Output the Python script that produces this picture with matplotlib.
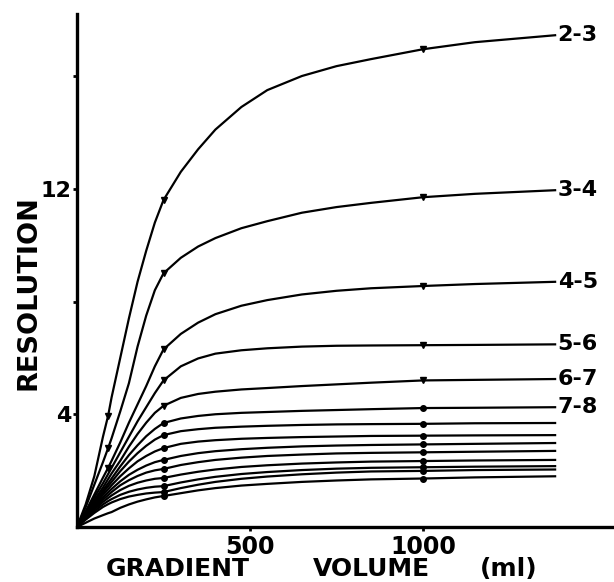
import numpy as np
import matplotlib
matplotlib.use("Agg")
import matplotlib.pyplot as plt

volume = [0, 25, 50, 75, 90, 100, 125, 150, 175, 200, 225, 250, 300, 350,
          400, 475, 550, 650, 750, 850, 1000, 1150, 1385]

# resolution of neighbouring peaks, top curve first
pair_labels = ["2-3", "3-4", "4-5", "5-6", "6-7", "7-8",
               "", "", "", "", "", "", "", ""]
resolution = [
    [0, 0.8, 1.8, 3.2, 3.95, 4.6, 6.0, 7.4, 8.7, 9.8, 10.8, 11.6, 12.6, 13.4,
     14.1, 14.9, 15.5, 16.0, 16.35, 16.6, 16.95, 17.2, 17.45],
    [0, 0.7, 1.5, 2.3, 2.8, 3.15, 4.1, 5.1, 6.4, 7.5, 8.4, 9.0, 9.55, 9.95,
     10.25, 10.6, 10.85, 11.15, 11.35, 11.5, 11.7, 11.82, 11.95],
    [0, 0.55, 1.15, 1.75, 2.1, 2.35, 3.0, 3.7, 4.35, 5.0, 5.7, 6.3, 6.85, 7.25,
     7.55, 7.85, 8.05, 8.25, 8.38, 8.47, 8.55, 8.62, 8.7],
    [0, 0.5, 1.05, 1.55, 1.88, 2.1, 2.65, 3.2, 3.75, 4.25, 4.75, 5.2, 5.7, 5.98,
     6.15, 6.27, 6.34, 6.4, 6.43, 6.44, 6.45, 6.46, 6.48],
    [0, 0.45, 0.95, 1.4, 1.7, 1.9, 2.35, 2.85, 3.3, 3.7, 4.05, 4.3, 4.58, 4.72,
     4.8, 4.88, 4.93, 5.0, 5.06, 5.12, 5.2, 5.22, 5.25],
    [0, 0.42, 0.88, 1.3, 1.55, 1.72, 2.15, 2.55, 2.9, 3.22, 3.48, 3.69, 3.85, 3.94,
     4.0, 4.05, 4.08, 4.12, 4.15, 4.18, 4.22, 4.23, 4.25],
    [0, 0.4, 0.82, 1.22, 1.45, 1.6, 1.98, 2.32, 2.62, 2.88, 3.1, 3.26, 3.4, 3.47,
     3.52, 3.56, 3.59, 3.62, 3.64, 3.65, 3.66, 3.68, 3.69],
    [0, 0.38, 0.77, 1.14, 1.34, 1.48, 1.8, 2.08, 2.33, 2.52, 2.68, 2.8, 2.95, 3.03,
     3.08, 3.13, 3.16, 3.19, 3.21, 3.23, 3.24, 3.25, 3.26],
    [0, 0.36, 0.72, 1.05, 1.23, 1.35, 1.62, 1.85, 2.03, 2.18, 2.3, 2.38, 2.52, 2.62,
     2.69, 2.76, 2.81, 2.86, 2.89, 2.91, 2.93, 2.95, 2.98],
    [0, 0.34, 0.67, 0.97, 1.13, 1.24, 1.48, 1.66, 1.81, 1.93, 2.01, 2.06, 2.2, 2.3,
     2.38, 2.46, 2.52, 2.57, 2.61, 2.63, 2.65, 2.67, 2.70],
    [0, 0.32, 0.62, 0.89, 1.03, 1.12, 1.31, 1.46, 1.57, 1.65, 1.71, 1.74, 1.86, 1.96,
     2.04, 2.13, 2.19, 2.25, 2.29, 2.32, 2.34, 2.36, 2.38],
    [0, 0.29, 0.56, 0.8, 0.92, 0.99, 1.14, 1.25, 1.33, 1.39, 1.43, 1.45, 1.58, 1.69,
     1.78, 1.88, 1.95, 2.02, 2.07, 2.1, 2.12, 2.14, 2.16],
    [0, 0.26, 0.5, 0.71, 0.81, 0.87, 0.99, 1.08, 1.14, 1.19, 1.22, 1.24, 1.38, 1.5,
     1.6, 1.71, 1.79, 1.87, 1.93, 1.97, 1.99, 2.02, 2.04],
    [0, 0.15, 0.3, 0.42, 0.49, 0.53, 0.68, 0.8, 0.9, 0.98, 1.05, 1.1, 1.2, 1.3,
     1.38, 1.47, 1.53, 1.6, 1.65, 1.69, 1.72, 1.76, 1.8],
]
# measured points (index into volume): 90, 250 and 1000 ml
marks_top = [4, 11, 20]
marks_rest = [11, 20]

xticks = [500, 1000]
yticks = [4, 8, 12, 16]
ytick_labels = ["4", "", "12", ""]

plt.rcParams['font.family'] = ['DejaVu Sans']
plt.rcParams['font.weight'] = 'bold'

W, H = 614, 582
fig = plt.figure(figsize=(W / 100, H / 100), dpi=100)
ax = fig.add_axes([77 / W, 55 / H, 537 / W, 513 / H])

for i, ys in enumerate(resolution):
    mk = 'v' if i < 5 else 'o'
    every = marks_top if i < 3 else marks_rest
    ax.plot(volume, ys, color='black', lw=1.6, marker=mk, ms=4,
            markevery=every, solid_capstyle='butt', solid_joinstyle='round',
            clip_on=False)
    if pair_labels[i]:
        ax.text(volume[-1] + 4, ys[-1], pair_labels[i], fontsize=16,
                fontweight='bold', ha='left', va='center')

ax.set_xlim(0, 1552)
ax.set_ylim(0, 18.2)
for s in ['top', 'right']:
    ax.spines[s].set_visible(False)
for s in ['left', 'bottom']:
    ax.spines[s].set_linewidth(2.4)

ax.set_xticks(xticks)
ax.set_xticklabels([str(v) for v in xticks], fontsize=17, fontweight='bold')
ax.set_yticks(yticks)
ax.set_yticklabels(ytick_labels, fontsize=16, fontweight='bold')
ax.tick_params(axis='x', direction='out', length=3, width=2, pad=3)
ax.tick_params(axis='y', direction='out', length=3, width=2, pad=1)

# axis titles, spread out like the hand lettering
ty = 1 - 569 / H
fig.text(178 / W, ty, "GRADIENT", fontsize=18, fontweight='bold',
         ha='center', va='center')
fig.text(371 / W, ty, "VOLUME", fontsize=18, fontweight='bold',
         ha='center', va='center')
fig.text(509 / W, ty, "(ml)", fontsize=18, fontweight='bold',
         ha='center', va='center')
fig.text(29 / W, 1 - 293 / H, "RESOLUTION", fontsize=19.5, fontweight='bold',
         ha='center', va='center', rotation=90)

fig.savefig("out.png", dpi=100)
